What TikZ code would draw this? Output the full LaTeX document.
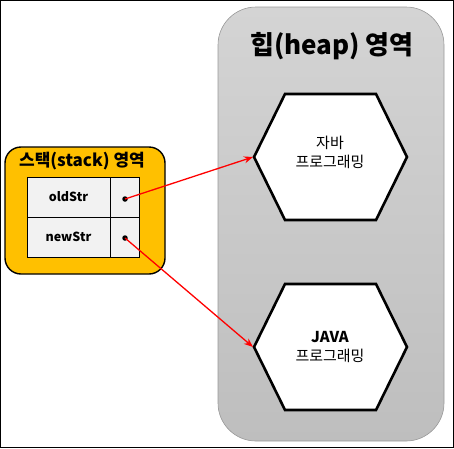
\documentclass[tikz,border=0pt]{standalone}
\usepackage{fontspec}
\setmainfont{Noto Sans CJK KR}
\usetikzlibrary{arrows.meta}
\definecolor{stackor}{HTML}{FFC000}
\definecolor{celfill}{HTML}{F2F2F2}
\definecolor{heaptop}{HTML}{D4D4D4}
\definecolor{heapbot}{HTML}{BEBEBE}
\tikzset{
  hexa/.style={draw=black, line width=2.6pt, fill=white, line join=miter},
  cellbox/.style={draw=black, line width=0.8pt, fill=celfill},
  ptr/.style={draw=red, line width=1.3pt, -{Stealth[length=9pt,width=7pt]}},
  dotmark/.style={circle, fill=black, inner sep=0pt, minimum size=5.5pt},
  hextext/.style={align=center, font=\fontsize{15}{19}\selectfont},
}
\begin{document}
\begin{tikzpicture}[x=1pt,y=-1pt]
\useasboundingbox (0,0) rectangle (454,448);
\draw[black, line width=1pt] (0.5,0.5) rectangle (453.5,447.5);
% heap
\shade[top color=heaptop, bottom color=heapbot, rounded corners=38pt] (218,7) rectangle (444,441);
\draw[gray!80, line width=0.6pt, rounded corners=38pt] (218,7) rectangle (444,441);
\node (heaptitle) at (332,46) {\fontsize{26}{30}\selectfont\bfseries 힙(heap) 영역};
% stack
\draw[black, line width=1.4pt, fill=stackor, rounded corners=16pt] (5,147) rectangle (165,274);
\node (stacktitle) at (82,161) {\fontsize{17}{20}\selectfont\bfseries 스택(stack) 영역};
\draw[cellbox] (27,177) rectangle (110,217);
\draw[cellbox] (110,177) rectangle (139,217);
\draw[cellbox] (27,217) rectangle (110,257);
\draw[cellbox] (110,217) rectangle (139,257);
\node (old) at (68.5,197) {\fontsize{12.5}{15}\selectfont\bfseries oldStr};
\node (new) at (68.5,237) {\fontsize{12.5}{15}\selectfont\bfseries newStr};
\node[dotmark] (d1) at (125,199) {};
\node[dotmark] (d2) at (125,238) {};
% hexagons
\draw[hexa] (285,94) -- (376,94) -- (407,157) -- (376,220) -- (285,220) -- (254,157) -- cycle;
\coordinate (h1) at (253,157);
\node[hextext] (t1) at (330,152) {자바\\프로그래밍};
\draw[hexa] (285,284) -- (376,284) -- (407,347) -- (376,410) -- (285,410) -- (254,347) -- cycle;
\coordinate (h2) at (253,347);
\node[hextext] (t2) at (330,347) {\textbf{JAVA}\\프로그래밍};
% arrows
\draw[ptr] (d1.center) -- (h1);
\draw[ptr] (d2.center) -- (h2);
\end{tikzpicture}
\end{document}
